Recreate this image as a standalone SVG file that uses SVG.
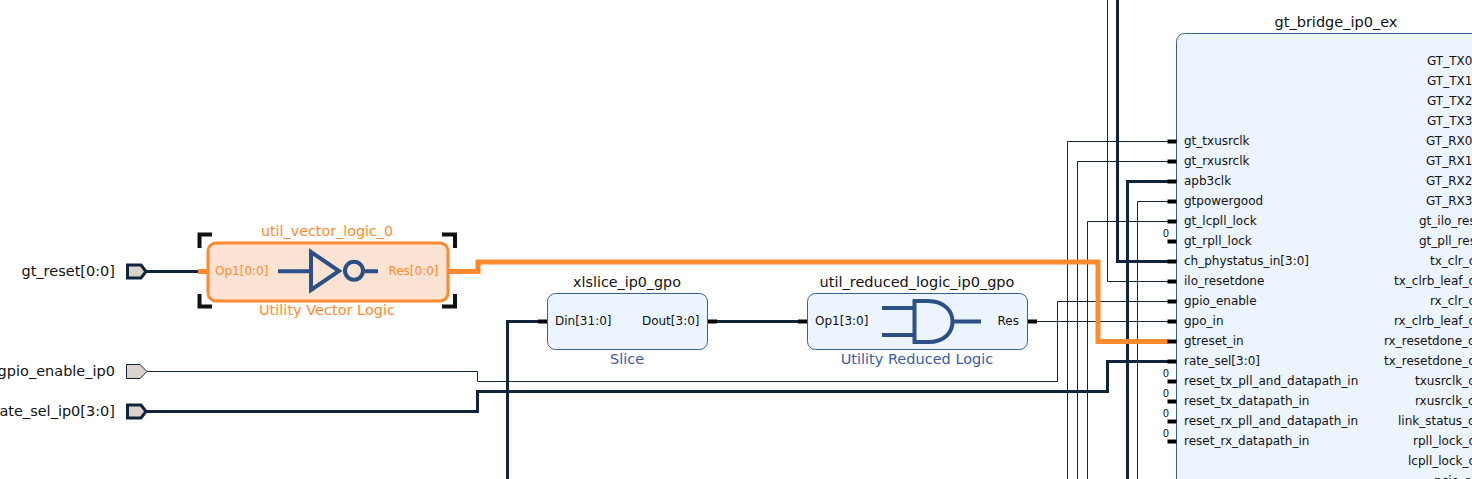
<svg xmlns="http://www.w3.org/2000/svg" width="1472" height="479" viewBox="0 0 1472 479">
<style>
text{font-family:"DejaVu Sans",sans-serif;fill:#111}
.t{font-size:14.500px;text-anchor:middle}
.t2{font-size:14.300px;text-anchor:middle}
.s{font-size:14.500px;text-anchor:middle;fill:#3d5c9e}
.o{fill:#ff8a2e}
.l{font-size:14.500px;text-anchor:end}
.p{font-size:12px}
.e{text-anchor:end}
.z{font-size:10px;text-anchor:end}
.n{fill:#ecf4fe;stroke:#3d5c9e;stroke-width:1}
.w{fill:none;stroke:#10243c;stroke-width:1}
.b{fill:none;stroke:#10243c;stroke-width:3}
.pin{fill:#000}
.ext{fill:#dcd2cc;stroke:#10243c;stroke-width:1}
.ext3{fill:#dcd2cc;stroke:#10243c;stroke-width:3}
.g{fill:none;stroke:#2b5086;stroke-width:4}
.br{fill:none;stroke:#111;stroke-width:4}
</style>
<g id="connectors">
<path class="b" d="M146 271.500H198"/>
<path class="w" d="M147 371.500H477.500V381.500H1057.500V301.500H1168"/>
<path class="b" d="M146 411.500H477.500V391.500H1107.500V361.500H1168"/>
<path class="b" d="M507.500 479V321.500H538"/>
<path class="b" d="M717 321.500H798"/>
<path class="w" d="M1037 321.500H1168"/>
<path class="w" d="M1067.500 479V141.500H1168"/>
<path class="w" d="M1077.500 479V161.500H1168"/>
<path class="w" d="M1087.500 479V221.500H1168"/>
<path class="w" d="M1107.500 0V281.500H1168"/>
<path class="b" d="M1117.500 0V261.500H1168"/>
<path class="b" d="M1127.500 479V181.500H1168"/>
<path class="w" d="M1137.500 479V201.500H1168"/>
<path d="M458 271.500H478V262H1098V341.500H1168.500" fill="none" stroke="#ff8a2e" stroke-width="5"/>
</g>
<g id="gt_reset"><text class="l" x="115" y="276">gt_reset[0:0]</text><path class="ext3" d="M127.500 265H141L146 271.500L141 278H127.500Z"/></g>
<g id="gpio_enable_ip0"><text class="l" x="115" y="376">gpio_enable_ip0</text><path class="ext" d="M126.500 364.500H140L147 371.500L140 378.500H126.500Z"/></g>
<g id="rate_sel_ip0"><text class="l" x="115" y="416">rate_sel_ip0[3:0]</text><path class="ext3" d="M127.500 405H141L146 411.500L141 418H127.500Z"/></g>
<g id="util_vector_logic_0">
<text class="t2 o" x="327" y="236">util_vector_logic_0</text>
<path class="br" d="M199.500 248V234.500H212M455 248V234.500H442M199.500 294V306.500H212M455 294V306.500H442"/>
<rect x="208" y="243" width="240" height="58" rx="8" fill="#fbe3d3" stroke="#ff8a2e" stroke-width="3"/>
<rect x="198" y="269" width="10" height="5" class="o"/><rect x="448" y="269" width="10" height="5" class="o"/>
<text class="p o" x="215" y="275">Op1[0:0]</text>
<text class="p e o" x="438.500" y="275">Res[0:0]</text>
<path class="g" d="M278 271.300H311M311 252L339 271L311 290ZM365 271.300H378"/><circle class="g" cx="354" cy="270.800" r="9"/>
<text class="t o" x="327" y="315">Utility Vector Logic</text>
</g>
<g id="xlslice_ip0_gpo">
<text class="t2" x="627" y="287">xlslice_ip0_gpo</text>
<rect class="n" x="547.500" y="293.500" width="160" height="56" rx="8"/>
<rect class="pin" x="538" y="319.500" width="9" height="4"/><rect class="pin" x="708" y="319.500" width="9" height="4"/>
<text class="p" x="555" y="325">Din[31:0]</text><text class="p e" x="699.500" y="325">Dout[3:0]</text>
<text class="s" x="627" y="364">Slice</text>
</g>
<g id="util_reduced_logic_ip0_gpo">
<text class="t" x="917" y="287">util_reduced_logic_ip0_gpo</text>
<rect class="n" x="807.500" y="293.500" width="220" height="56" rx="8"/>
<rect class="pin" x="798" y="319.500" width="9" height="4"/><rect class="pin" x="1028" y="319.500" width="9" height="4"/>
<text class="p" x="815" y="325">Op1[3:0]</text><text class="p e" x="1019" y="325">Res</text>
<path class="g" d="M882 308H914M882 335H914M953 321.500H981M914.500 301H928C945 301 952.500 312 952.500 321.500C952.500 332 945 342 928 342H914.500Z"/>
<text class="s" x="917" y="364">Utility Reduced Logic</text>
</g>
<g id="gt_bridge_ip0_ex">
<text class="t" x="1336" y="27">gt_bridge_ip0_ex</text>
<rect class="n" x="1176.500" y="33.500" width="320" height="480" rx="8"/>
<path class="pin" d="M1167.500 139.500h9v4h-9zM1167.500 159.500h9v4h-9zM1167.500 179.500h9v4h-9zM1167.500 199.500h9v4h-9zM1167.500 219.500h9v4h-9zM1167.500 239.500h9v4h-9zM1167.500 259.500h9v4h-9zM1167.500 279.500h9v4h-9zM1167.500 299.500h9v4h-9zM1167.500 319.500h9v4h-9zM1167.500 339.500h9v4h-9zM1167.500 359.500h9v4h-9zM1167.500 379.500h9v4h-9zM1167.500 399.500h9v4h-9zM1167.500 419.500h9v4h-9zM1167.500 439.500h9v4h-9z"/>
<text class="p" x="1184" y="145">gt_txusrclk</text>
<text class="p" x="1184" y="165">gt_rxusrclk</text>
<text class="p" x="1184" y="185">apb3clk</text>
<text class="p" x="1184" y="205">gtpowergood</text>
<text class="p" x="1184" y="225">gt_lcpll_lock</text>
<text class="p" x="1184" y="245">gt_rpll_lock</text>
<text class="p" x="1184" y="265">ch_phystatus_in[3:0]</text>
<text class="p" x="1184" y="285">ilo_resetdone</text>
<text class="p" x="1184" y="305">gpio_enable</text>
<text class="p" x="1184" y="325">gpo_in</text>
<text class="p" x="1184" y="345">gtreset_in</text>
<text class="p" x="1184" y="365">rate_sel[3:0]</text>
<text class="p" x="1184" y="385">reset_tx_pll_and_datapath_in</text>
<text class="p" x="1184" y="405">reset_tx_datapath_in</text>
<text class="p" x="1184" y="425">reset_rx_pll_and_datapath_in</text>
<text class="p" x="1184" y="445">reset_rx_datapath_in</text>
<text class="z" x="1169" y="237">0</text><text class="z" x="1169" y="377">0</text><text class="z" x="1169" y="397">0</text><text class="z" x="1169" y="417">0</text><text class="z" x="1169" y="437">0</text>
<text class="p" x="1427" y="65">GT_TX0</text>
<text class="p" x="1427" y="85">GT_TX1</text>
<text class="p" x="1427" y="105">GT_TX2</text>
<text class="p" x="1427" y="125">GT_TX3</text>
<text class="p" x="1426" y="145">GT_RX0</text>
<text class="p" x="1426" y="165">GT_RX1</text>
<text class="p" x="1426" y="185">GT_RX2</text>
<text class="p" x="1426" y="205">GT_RX3</text>
<text class="p" x="1419" y="225">gt_ilo_res</text>
<text class="p" x="1419" y="245">gt_pll_res</text>
<text class="p" x="1430" y="265">tx_clr_o</text>
<text class="p" x="1394" y="285">tx_clrb_leaf_o</text>
<text class="p" x="1430" y="305">rx_clr_o</text>
<text class="p" x="1394" y="325">rx_clrb_leaf_o</text>
<text class="p" x="1384" y="345">rx_resetdone_o</text>
<text class="p" x="1384" y="365">tx_resetdone_o</text>
<text class="p" x="1415" y="385">txusrclk_o</text>
<text class="p" x="1415" y="405">rxusrclk_o</text>
<text class="p" x="1398" y="425">link_status_o</text>
<text class="p" x="1413" y="445">rpll_lock_o</text>
<text class="p" x="1408" y="465">lcpll_lock_o</text>
<text class="p" x="1434" y="485">pcie_r</text>
</g>
</svg>
